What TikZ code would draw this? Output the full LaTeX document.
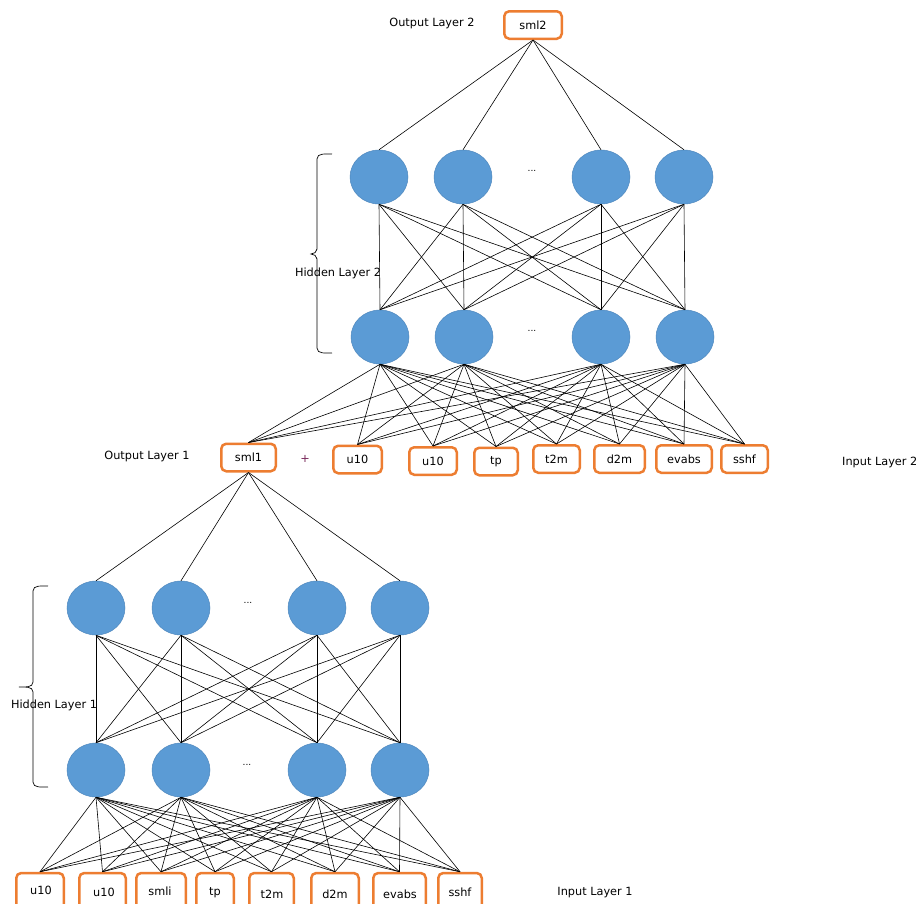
\documentclass[tikz,border=0pt]{standalone}
\usepackage{fontspec}
\setmainfont{DejaVu Sans}
\usetikzlibrary{shapes.geometric}
\definecolor{nblue}{HTML}{5B9BD5}
\definecolor{nbord}{HTML}{4F88BE}
\definecolor{borange}{HTML}{ED7D31}
\definecolor{pluscol}{HTML}{7A2A5C}
\tikzset{
  neuron/.style={ellipse, fill=nblue, draw=nbord, line width=0.5pt, minimum width=58pt, minimum height=54pt, inner sep=0pt},
  varbox/.style={draw=borange, line width=2.5pt, rounded corners=5pt, minimum height=27.5pt, inner sep=0pt, font=\fontsize{11.3}{13}\selectfont},
  lbl/.style={font=\fontsize{11.3}{13}\selectfont, inner sep=0pt},
  dots/.style={font=\fontsize{9}{10}\selectfont, inner sep=0pt},
  conn/.style={draw=black, line width=0.6pt}
}
\begin{document}
\begin{tikzpicture}[x=1pt,y=-1pt]
\useasboundingbox (0,0) rectangle (916,903);
\clip (0,0) rectangle (916,903);
\fill[white] (0,0) rectangle (916,903);

% output layer 2
\node[varbox, minimum width=57.5pt] (sml2) at (533,25) {sml2};
\node[lbl] (ol2) at (432,23) {Output Layer 2};

% hidden layer 2
\node[neuron] (a1) at (379,177) {};
\node[neuron] (a2) at (463,177) {};
\node[neuron] (a3) at (601,177) {};
\node[neuron] (a4) at (684,177) {};
\node[neuron] (b1) at (380,337) {};
\node[neuron] (b2) at (464,337) {};
\node[neuron] (b3) at (601,337) {};
\node[neuron] (b4) at (685,337) {};
\node[dots] (d1) at (532,171) {...};
\node[dots] (d2) at (532,331) {...};

% input layer 2
\node[varbox, minimum width=54.5pt] (s1) at (248.5,457.5) {sml1};
\node[varbox, minimum width=48.5pt] (i1) at (357.5,459.5) {u10};
\node[varbox, minimum width=47.5pt] (i2) at (433,461) {u10};
\node[varbox, minimum width=43.5pt] (i3) at (496,461.5) {tp};
\node[varbox, minimum width=46.5pt] (i4) at (556.5,459) {t2m};
\node[varbox, minimum width=50.5pt] (i5) at (619.5,459) {d2m};
\node[varbox, minimum width=55.5pt] (i6) at (684,459) {evabs};
\node[varbox, minimum width=46.5pt] (i7) at (744.5,459) {sshf};
\node[lbl, text=pluscol] (plus) at (305,459) {+};
\node[lbl] (ol1) at (147,456) {Output Layer 1};
\node[lbl, anchor=west] (il2) at (842,462) {Input Layer 2};

% hidden layer 1
\node[neuron] (c1) at (96,608) {};
\node[neuron] (c2) at (181,608) {};
\node[neuron] (c3) at (317,608) {};
\node[neuron] (c4) at (400,608) {};
\node[neuron] (e1) at (96,770) {};
\node[neuron] (e2) at (181,770) {};
\node[neuron] (e3) at (317,770) {};
\node[neuron] (e4) at (400,770) {};
\node[dots] (d3) at (248,603) {...};
\node[dots] (d4) at (247,765) {...};

% input layer 1
\node[varbox, minimum width=47.5pt, minimum height=40pt] (j1) at (40,893) {};
\node[varbox, minimum width=46.5pt, minimum height=40pt] (j2) at (102.5,893) {};
\node[varbox, minimum width=49.5pt, minimum height=40pt] (j3) at (161,893) {};
\node[varbox, minimum width=37.5pt, minimum height=40pt] (j4) at (215,893) {};
\node[varbox, minimum width=44.5pt, minimum height=40pt] (j5) at (271.5,893) {};
\node[varbox, minimum width=47.5pt, minimum height=40pt] (j6) at (335,893) {};
\node[varbox, minimum width=52.5pt, minimum height=40pt] (j7) at (399.5,893) {};
\node[varbox, minimum width=43.5pt, minimum height=40pt] (j8) at (460,893) {};
\node[lbl] (t1) at (41,890) {u10};
\node[lbl] (t2) at (104,892) {u10};
\node[lbl] (t3) at (160,891) {smli};
\node[lbl] (t4) at (215,893) {tp};
\node[lbl] (t5) at (272,894) {t2m};
\node[lbl] (t6) at (335,894) {d2m};
\node[lbl] (t7) at (400,894) {evabs};
\node[lbl] (t8) at (460,892) {sshf};
\node[lbl] (il1) at (595,893) {Input Layer 1};

% connections: output 2 to hidden 2 top
\foreach \a in {a1,a2,a3,a4} \draw[conn] (sml2.south) -- (\a.north);
% hidden 2 top to bottom
\foreach \a in {a1,a2,a3,a4} \foreach \b in {b1,b2,b3,b4} \draw[conn] (\a.south) -- (\b.north);
% hidden 2 bottom to input 2
\foreach \b in {b1,b2,b3,b4} \foreach \i in {s1,i1,i2,i3,i4,i5,i6,i7} \draw[conn] (\b.south) -- (\i.north);
% output 1 to hidden 1 top
\foreach \c in {c1,c2,c3,c4} \draw[conn] (s1.south) -- (\c.north);
% hidden 1 top to bottom
\foreach \c in {c1,c2,c3,c4} \foreach \e in {e1,e2,e3,e4} \draw[conn] (\c.south) -- (\e.north);
% hidden 1 bottom to input 1
\foreach \e in {e1,e2,e3,e4} \foreach \j in {j1,j2,j3,j4,j5,j6,j7,j8} \draw[conn] (\e.south) -- (\j.north);

% braces
\draw[line width=0.7pt] (332,154) to[out=180,in=90] (317,159) -- (317,249) to[out=-90,in=0] (311,254) to[out=0,in=90] (317,259) -- (317,348) to[out=-90,in=180] (332,353);
\node[lbl] (hl2) at (338,273) {Hidden Layer 2};
\draw[line width=0.7pt] (48,586) to[out=180,in=90] (33,591) -- (33,682) to[out=-90,in=0] (19,687) to[out=0,in=90] (33,692) -- (33,782) to[out=-90,in=180] (48,787);
\node[lbl] (hl1) at (54,705) {Hidden Layer 1};
\end{tikzpicture}
\end{document}
